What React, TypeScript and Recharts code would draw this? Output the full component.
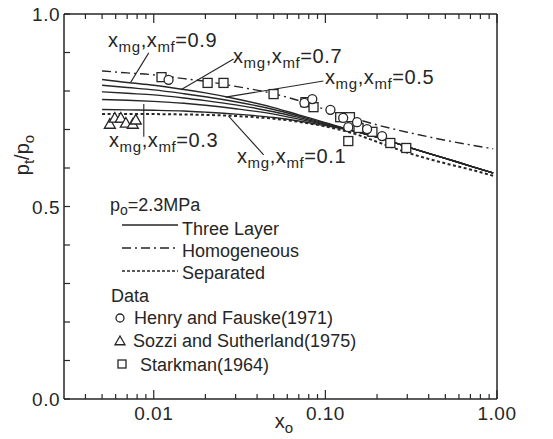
import {
    ComposedChart,
    Line,
    Scatter,
    XAxis,
    YAxis,
    ReferenceLine,
    Customized,
} from 'recharts';

const ink = '#262626';
const font = '"Liberation Sans", Arial, sans-serif';

// x_o grid the model curves are read at
const xGrid = [0.005, 0.007, 0.01, 0.015, 0.02, 0.03, 0.05, 0.07, 0.1, 0.15, 0.2, 0.3, 0.5, 0.7, 0.95];

// three layer model, one curve per x_mg,x_mf (they merge past x_o ~ 0.12)
const threeLayer09 = [0.83, 0.822, 0.815, 0.804, 0.795, 0.78, 0.757, 0.738, 0.718, 0.695, 0.68, 0.655, 0.625, 0.605, 0.587];
const threeLayer07 = [0.815, 0.809, 0.803, 0.793, 0.785, 0.772, 0.752, 0.735, 0.716, 0.695, 0.68, 0.655, 0.625, 0.605, 0.587];
const threeLayer05 = [0.798, 0.794, 0.79, 0.782, 0.775, 0.764, 0.746, 0.731, 0.714, 0.695, 0.68, 0.655, 0.625, 0.605, 0.587];
const threeLayer03 = [0.778, 0.776, 0.773, 0.768, 0.763, 0.754, 0.74, 0.727, 0.712, 0.695, 0.68, 0.655, 0.625, 0.605, 0.587];
const threeLayer01 = [0.752, 0.751, 0.75, 0.748, 0.745, 0.74, 0.731, 0.722, 0.71, 0.695, 0.68, 0.655, 0.625, 0.605, 0.587];
const homogeneous = [0.852, 0.847, 0.842, 0.832, 0.825, 0.812, 0.793, 0.775, 0.752, 0.728, 0.712, 0.693, 0.672, 0.66, 0.65];
const separated = [0.74, 0.74, 0.74, 0.739, 0.738, 0.735, 0.728, 0.72, 0.708, 0.688, 0.668, 0.64, 0.612, 0.596, 0.58];

// measured points
const henryX = [0.0122, 0.0755, 0.0839, 0.107, 0.127, 0.136, 0.153, 0.175, 0.214];
const henryY = [0.829, 0.769, 0.779, 0.751, 0.73, 0.706, 0.719, 0.701, 0.683];
const sozziX = [0.00555, 0.00593, 0.00643, 0.00688, 0.00755, 0.00786];
const sozziY = [0.714, 0.73, 0.73, 0.717, 0.714, 0.725];
const starkmanX = [0.0111, 0.0206, 0.0255, 0.0499, 0.0765, 0.0853, 0.122, 0.139, 0.156, 0.188, 0.136, 0.239, 0.296];
const starkmanY = [0.836, 0.821, 0.821, 0.792, 0.771, 0.758, 0.732, 0.732, 0.704, 0.694, 0.67, 0.665, 0.652];

// axes
const xTicks = [0.004, 0.005, 0.006, 0.007, 0.008, 0.009, 0.01, 0.02, 0.03, 0.04, 0.05, 0.06, 0.07, 0.08, 0.09, 0.1, 0.2, 0.3, 0.4, 0.5, 0.6, 0.7, 0.8, 0.9, 1];
const xMajor = [0.01, 0.1, 1];
const xMajorLabels = ['0.01', '0.10', '1.00'];
const yTicks = [0, 0.1, 0.2, 0.3, 0.4, 0.5, 0.6, 0.7, 0.8, 0.9, 1];
const yLabelled = [0, 0.5, 1];
const yLabels = ['0.0', '0.5', '1.0'];

const curve = (ys: number[]) => xGrid.map((x, i) => ({ x, y: ys[i] }));
const points = (xs: number[], ys: number[]) => xs.map((x, i) => ({ x, y: ys[i] }));

const majorIndex = (v: number, list: number[]) => list.findIndex((m) => Math.abs(m - v) < 1e-9);

function BottomTick({ x, y, payload }: any) {
    const i = majorIndex(payload.value, xMajor);
    return (
        <g>
            <line x1={x} x2={x} y1={y} y2={y - (i >= 0 ? 9 : 5)} stroke={ink} strokeWidth={1.2} />
            {i >= 0 && (
                <text x={x} y={y + 21} textAnchor="middle" fontSize={19} fill={ink} fontFamily={font} letterSpacing={0.5}>
                    {xMajorLabels[i]}
                </text>
            )}
        </g>
    );
}

function TopTick({ x, y, payload }: any) {
    const i = majorIndex(payload.value, xMajor);
    return <line x1={x} x2={x} y1={y} y2={y + (i >= 0 ? 9 : 5)} stroke={ink} strokeWidth={1.2} />;
}

function LeftTick({ x, y, payload }: any) {
    const i = majorIndex(payload.value, yLabelled);
    return (
        <g>
            <line x1={x} x2={x + 6} y1={y} y2={y} stroke={ink} strokeWidth={1.2} />
            {i >= 0 && (
                <text x={x - 4} y={y + 7} textAnchor="end" fontSize={19} fill={ink} fontFamily={font} letterSpacing={0.5}>
                    {yLabels[i]}
                </text>
            )}
        </g>
    );
}

function RightTick({ x, y }: any) {
    return <line x1={x} x2={x - 6} y1={y} y2={y} stroke={ink} strokeWidth={1.2} />;
}

function CircleMark({ cx, cy, r = 4.5 }: any) {
    return <circle cx={cx} cy={cy} r={r} fill="#fff" stroke={ink} strokeWidth={1.3} />;
}

function TriangleMark({ cx, cy, s = 5.5 }: any) {
    const pts = `${cx},${cy - s} ${cx - s},${cy + s * 0.75} ${cx + s},${cy + s * 0.75}`;
    return <polygon points={pts} fill="#fff" stroke={ink} strokeWidth={1.3} />;
}

function SquareMark({ cx, cy, s = 4.5 }: any) {
    return <rect x={cx - s} y={cy - s} width={s * 2} height={s * 2} fill="#fff" stroke={ink} strokeWidth={1.3} />;
}

function CurveLabel({ x, y, val }: { x: number; y: number; val: string }) {
    return (
        <text x={x} y={y} fontSize={20} fill={ink} fontFamily={font} letterSpacing={0.6}>
            x<tspan fontSize={15} dy={5}>mg</tspan>
            <tspan dy={-5}>,x</tspan>
            <tspan fontSize={15} dy={5}>mf</tspan>
            <tspan dy={-5}>={val}</tspan>
        </text>
    );
}

function Annotations() {
    const t = { fontSize: 18, fill: ink, fontFamily: font };
    return (
        <g>
            <CurveLabel x={108} y={47} val="0.9" />
            <CurveLabel x={233} y={63} val="0.7" />
            <CurveLabel x={325} y={84} val="0.5" />
            <CurveLabel x={109} y={147} val="0.3" />
            <CurveLabel x={237} y={163} val="0.1" />

            <text x={110} y={211} {...t}>
                p<tspan fontSize={14} dy={4}>o</tspan>
                <tspan dy={-4}>=2.3MPa</tspan>
            </text>
            <line x1={122} x2={178} y1={225} y2={225} stroke={ink} strokeWidth={1.4} />
            <text x={182} y={235} {...t}>Three Layer</text>
            <line x1={122} x2={178} y1={248} y2={248} stroke={ink} strokeWidth={1.4} strokeDasharray="9 4 2 4" />
            <text x={182} y={257} {...t}>Homogeneous</text>
            <line x1={122} x2={178} y1={271} y2={271} stroke={ink} strokeWidth={1.4} strokeDasharray="3 2" />
            <text x={182} y={279} {...t}>Separated</text>
            <text x={111} y={302} {...t}>Data</text>
            <CircleMark cx={120} cy={318} r={4} />
            <text x={134} y={324} {...t}>Henry and Fauske(1971)</text>
            <TriangleMark cx={120} cy={341} s={5} />
            <text x={133} y={347} {...t}>Sozzi and Sutherland(1975)</text>
            <SquareMark cx={122} cy={364} s={4} />
            <text x={140} y={371} {...t}>Starkman(1964)</text>

            <text x={284} y={428} textAnchor="middle" fontSize={20} fill={ink} fontFamily={font}>
                x<tspan fontSize={15} dy={5}>o</tspan>
            </text>
            <text x={29} y={155} textAnchor="middle" fontSize={20} fill={ink} fontFamily={font} transform="rotate(-90, 29, 155)">
                p<tspan fontSize={15} dy={5}>t</tspan>
                <tspan dy={-5}>/p</tspan>
                <tspan fontSize={15} dy={5}>o</tspan>
            </text>
        </g>
    );
}

// leader lines from the labels to their curves, in data units
const leaders = [
    [{ x: 0.00935, y: 0.899 }, { x: 0.00735, y: 0.823 }],
    [{ x: 0.0292, y: 0.883 }, { x: 0.0144, y: 0.803 }],
    [{ x: 0.0974, y: 0.826 }, { x: 0.0262, y: 0.784 }],
    [{ x: 0.00875, y: 0.766 }, { x: 0.00875, y: 0.681 }],
    [{ x: 0.0273, y: 0.735 }, { x: 0.0437, y: 0.634 }],
];

export default function App() {
    const solid = [threeLayer09, threeLayer07, threeLayer05, threeLayer03, threeLayer01];
    return (
        <div style={{ position: 'absolute', left: 0, top: 0, width: 553, height: 439, background: '#fff' }}>
            <ComposedChart width={553} height={439} margin={{ top: 4, right: 46, bottom: 10, left: 34 }}>
                <XAxis
                    xAxisId="b"
                    dataKey="x"
                    type="number"
                    scale="log"
                    domain={[0.003, 1]}
                    ticks={xTicks}
                    interval={0}
                    allowDataOverflow
                    height={30}
                    tickSize={0}
                    tickMargin={0}
                    tickLine={false}
                    tick={<BottomTick />}
                    axisLine={{ stroke: ink, strokeWidth: 1.5 }}
                />
                <XAxis
                    xAxisId="t"
                    orientation="top"
                    dataKey="x"
                    type="number"
                    scale="log"
                    domain={[0.003, 1]}
                    ticks={xTicks}
                    interval={0}
                    allowDataOverflow
                    height={10}
                    tickSize={0}
                    tickMargin={0}
                    tickLine={false}
                    tick={<TopTick />}
                    axisLine={{ stroke: ink, strokeWidth: 1.5 }}
                />
                <YAxis
                    yAxisId="l"
                    dataKey="y"
                    type="number"
                    domain={[0, 1]}
                    ticks={yTicks}
                    interval={0}
                    width={30}
                    tickSize={0}
                    tickMargin={0}
                    tickLine={false}
                    tick={<LeftTick />}
                    axisLine={{ stroke: ink, strokeWidth: 1.5 }}
                />
                <YAxis
                    yAxisId="r"
                    orientation="right"
                    type="number"
                    domain={[0, 1]}
                    ticks={yTicks}
                    interval={0}
                    width={10}
                    tickSize={0}
                    tickMargin={0}
                    tickLine={false}
                    tick={<RightTick />}
                    axisLine={{ stroke: ink, strokeWidth: 1.5 }}
                />

                {solid.map((ys, i) => (
                    <Line
                        key={i}
                        xAxisId="b"
                        yAxisId="l"
                        data={curve(ys)}
                        dataKey="y"
                        type="monotone"
                        stroke={ink}
                        strokeWidth={1.4}
                        dot={false}
                        isAnimationActive={false}
                    />
                ))}
                <Line
                    xAxisId="b"
                    yAxisId="l"
                    data={curve(homogeneous)}
                    dataKey="y"
                    type="monotone"
                    stroke={ink}
                    strokeWidth={1.4}
                    strokeDasharray="9 4 2 4"
                    dot={false}
                    isAnimationActive={false}
                />
                <Line
                    xAxisId="b"
                    yAxisId="l"
                    data={curve(separated)}
                    dataKey="y"
                    type="monotone"
                    stroke={ink}
                    strokeWidth={2}
                    strokeDasharray="3 2.5"
                    dot={false}
                    isAnimationActive={false}
                />

                {leaders.map((seg, i) => (
                    <ReferenceLine key={i} xAxisId="b" yAxisId="l" segment={seg} stroke={ink} strokeWidth={1.1} ifOverflow="visible" />
                ))}

                <Scatter xAxisId="b" yAxisId="l" data={points(sozziX, sozziY)} shape={<TriangleMark />} isAnimationActive={false} />
                <Scatter xAxisId="b" yAxisId="l" data={points(starkmanX, starkmanY)} shape={<SquareMark />} isAnimationActive={false} />
                <Scatter xAxisId="b" yAxisId="l" data={points(henryX, henryY)} shape={<CircleMark />} isAnimationActive={false} />

                <Customized component={Annotations} />
            </ComposedChart>
        </div>
    );
}
